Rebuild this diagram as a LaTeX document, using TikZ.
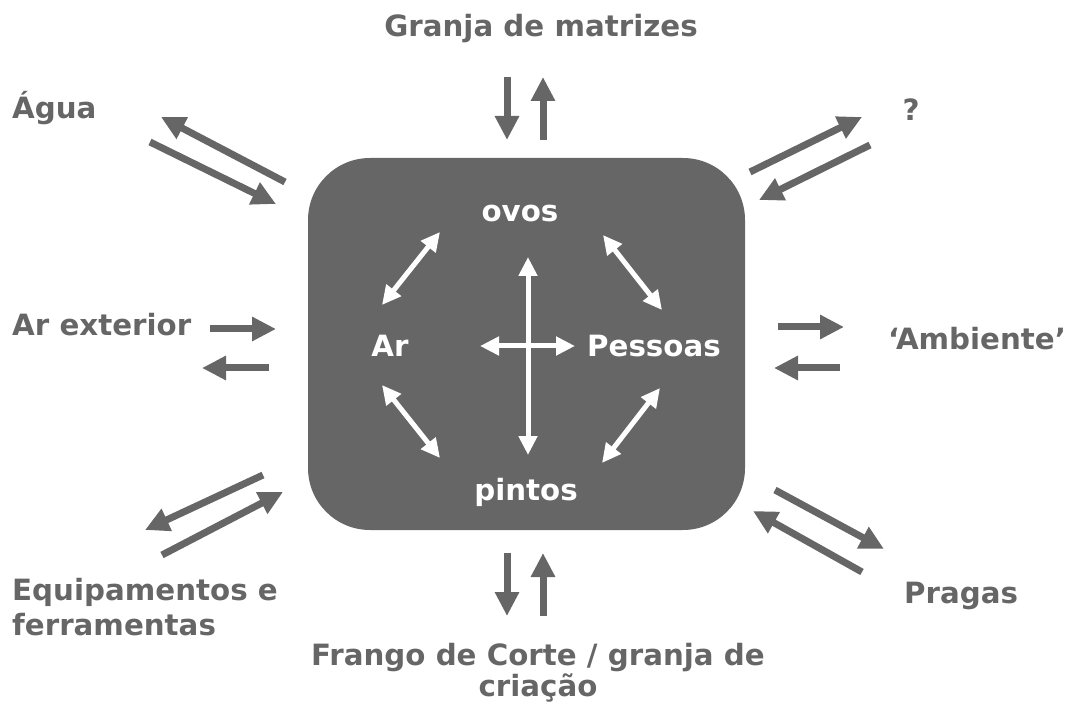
\documentclass[tikz,border=0pt]{standalone}
\usepackage{fontspec}
\setmainfont{DejaVu Sans}
\usetikzlibrary{arrows.meta}
\definecolor{dg}{RGB}{102,102,102}
\tikzset{
  lbl/.style={text=dg, font=\bfseries\fontsize{29.3}{35}\selectfont, anchor=base, inner sep=0pt},
  ilbl/.style={text=white, font=\bfseries\fontsize{29.3}{35}\selectfont, anchor=base, inner sep=0pt},
  garr/.style={draw=dg, line width=7pt, -{Triangle[length=24pt,width=23pt]}},
  warr/.style={draw=white, line width=5pt, {Triangle[length=19pt,width=18pt]}-{Triangle[length=19pt,width=18pt]}}
}
\begin{document}
\begin{tikzpicture}[x=1pt,y=-1pt]
\useasboundingbox (0,0) rectangle (1069,703);
\fill[dg, rounded corners=62pt] (308,158) rectangle (745,530);
% inner labels
\node[ilbl] (ovos) at (520,222) {ovos};
\node[ilbl] (ar) at (390,357) {Ar};
\node[ilbl] (pes) at (654,357) {Pessoas};
\node[ilbl] (pin) at (526,500) {pintos};
% inner arrows
\draw[warr] (382,305) -- (440,232);
\draw[warr] (603,235) -- (662,310);
\draw[warr] (382,385) -- (440,458);
\draw[warr] (660,388) -- (602,463);
\draw[warr] (528,257) -- (528,455);
\draw[warr] (480,346) -- (575,346);
% outer labels
\node[lbl] (granja) at (541,37) {Granja de matrizes};
\node[lbl, anchor=base west] (agua) at (12,119) {Água};
\node[lbl] (q) at (911,121) {?};
\node[lbl, anchor=base west] (arext) at (12,336) {Ar exterior};
\node[lbl, anchor=base west] (amb) at (888,350) {`Ambiente'};
\node[lbl, anchor=base west] (equip) at (12,600) {Equipamentos e};
\node[lbl, anchor=base west] (ferr) at (12,635) {ferramentas};
\node[lbl, anchor=base west] (prag) at (904,603) {Pragas};
\node[lbl] (frango) at (538,665) {Frango de Corte / granja de};
\node[lbl] (criacao) at (538,696) {criação};
% outer arrows
\draw[garr] (507,77) -- (507,140);
\draw[garr] (543,140) -- (543,77);
\draw[garr] (507,553) -- (507,616);
\draw[garr] (543,616) -- (543,553);
\draw[garr] (285,182) -- (161,117);
\draw[garr] (150,142) -- (276,204);
\draw[garr] (750,172) -- (862,117);
\draw[garr] (870,145) -- (759,200);
\draw[garr] (210,329) -- (276,329);
\draw[garr] (269,368) -- (202,368);
\draw[garr] (778,327) -- (844,327);
\draw[garr] (840,368) -- (774,368);
\draw[garr] (263,475) -- (145,530);
\draw[garr] (162,555) -- (283,492);
\draw[garr] (775,490) -- (884,549);
\draw[garr] (862,572) -- (753,511);
\end{tikzpicture}
\end{document}
